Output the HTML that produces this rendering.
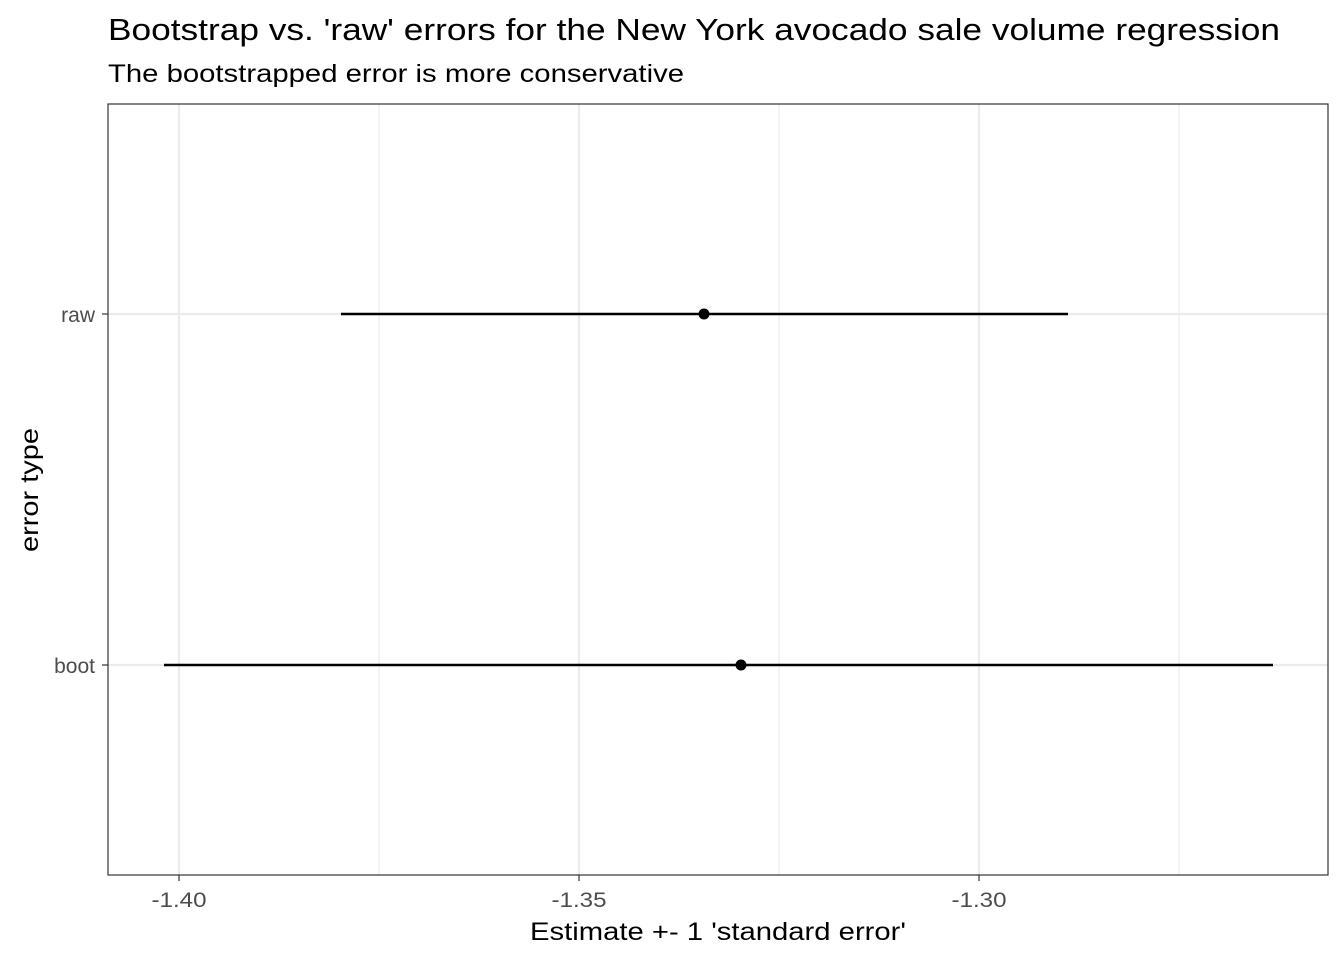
<!DOCTYPE html>
<html><head><meta charset="utf-8"><style>body{margin:0;background:#fff}svg{display:block;font-family:"Liberation Sans",Arial,sans-serif}</style></head>
<body>
<svg id="chart" width="1344" height="960">
<text x="108" y="40" font-size="31" fill="#000" textLength="1172" lengthAdjust="spacingAndGlyphs">Bootstrap vs. 'raw' errors for the New York avocado sale volume regression</text>
<text x="108" y="82" font-size="25" fill="#000" textLength="576" lengthAdjust="spacingAndGlyphs">The bootstrapped error is more conservative</text>
<g id="grid"></g>
<g id="marks"></g>
<rect x="108" y="104" width="1220" height="771" fill="none" stroke="#333" stroke-width="1.2"/>
<g id="axes"></g>
<text x="718" y="940" font-size="25" text-anchor="middle" textLength="376" lengthAdjust="spacingAndGlyphs">Estimate +- 1 'standard error'</text>
<text transform="translate(38,490) rotate(-90)" font-size="25" text-anchor="middle" textLength="124" lengthAdjust="spacingAndGlyphs">error type</text>
</svg>
<script>
const categories=["raw","boot"];
const estimates=[-1.334375,-1.32975];
const lows=[-1.37975,-1.401875];
const highs=[-1.288875,-1.26325];
const xTicks=[-1.40,-1.35,-1.30];
const xTickLabels=["-1.40","-1.35","-1.30"];
const xMinor=[-1.375,-1.325,-1.275];
const NS="http://www.w3.org/2000/svg";
function x(v){return 179+(v+1.40)*8000;}
const yPos={raw:314,boot:665};
function y(c){return yPos[c];}
function mk(t,a,p){const e=document.createElementNS(NS,t);for(const k in a)e.setAttribute(k,a[k]);p.appendChild(e);return e;}
const grid=document.getElementById('grid'),marks=document.getElementById('marks'),axes=document.getElementById('axes');
xMinor.forEach(v=>{const l=mk('line',{x1:x(v),x2:x(v),y1:104,y2:875,stroke:'#ebebeb','stroke-width':1.2},grid);

});
xTicks.forEach((v,i)=>{const l=mk('line',{x1:x(v),x2:x(v),y1:104,y2:875,stroke:'#ebebeb','stroke-width':2.2},grid);


const t=mk('line',{x1:x(v),x2:x(v),y1:875,y2:881,stroke:'#333','stroke-width':1.2},axes);


const tx=mk('text',{x:x(v),y:907,'font-size':21,fill:'#4d4d4d','text-anchor':'middle',textLength:55,lengthAdjust:'spacingAndGlyphs'},axes);tx.textContent=xTickLabels[i];

});
categories.forEach((c,i)=>{const g=mk('line',{x1:108,x2:1328,y1:y(c),y2:y(c),stroke:'#ebebeb','stroke-width':2.2},grid);


const t=mk('line',{x1:102,x2:108,y1:y(c),y2:y(c),stroke:'#333','stroke-width':1.2},axes);


const tx=mk('text',{x:95,y:y(c)+8,'font-size':21,fill:'#4d4d4d','text-anchor':'end'},axes);tx.textContent=c;


const l=mk('line',{x1:x(lows[i]),x2:x(highs[i]),y1:y(c),y2:y(c),stroke:'#000','stroke-width':2.4},marks);


const p=mk('circle',{cx:x(estimates[i]),cy:y(c),r:5.5,fill:'#000'},marks);

});
</script>
</body></html>
